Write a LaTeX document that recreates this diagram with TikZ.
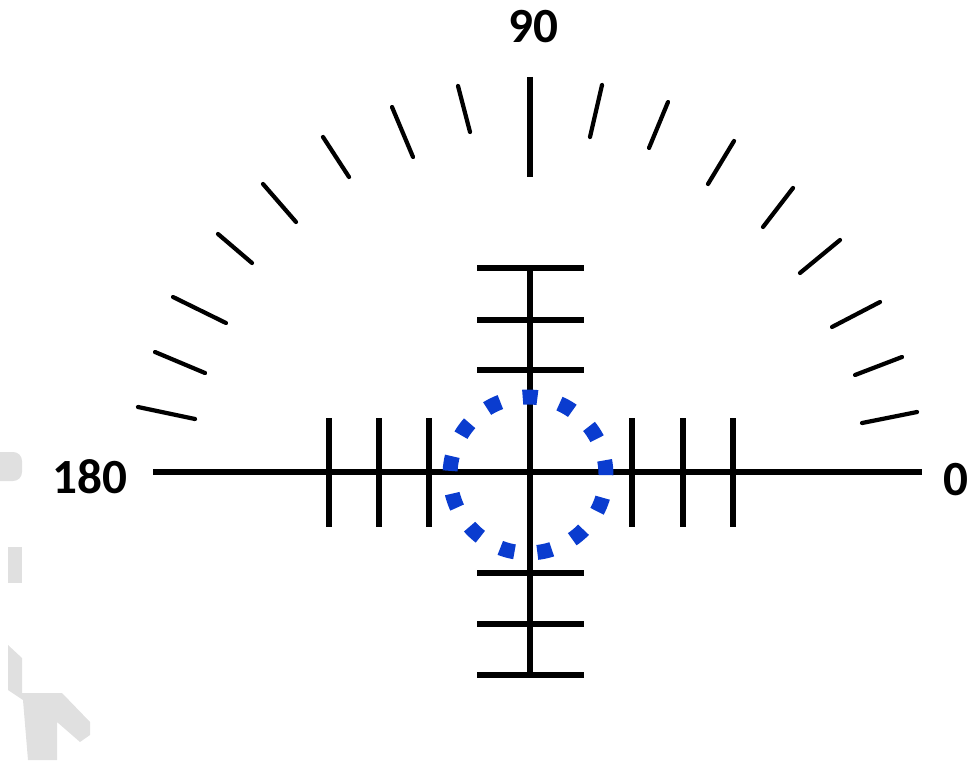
\documentclass[tikz,border=0pt]{standalone}
\usepackage{fontspec}
\setmainfont{Carlito}
\definecolor{DialBlue}{HTML}{0A3CCF}
\definecolor{DialGray}{HTML}{E0E0E0}

\begin{document}
\begin{tikzpicture}[x=.02cm,y=-.02cm,
  axisline/.style={line width=2.9pt},
  arcmark/.style={line width=2.4pt,line cap=round},
  anglelabel/.style={font=\fontsize{28}{32}\selectfont\bfseries,inner sep=0pt}]
  \useasboundingbox (0,0) rectangle (969,760);
  % faint marks at the left edge
  \fill[DialGray,rounded corners=5pt] (-10,452) rectangle (22,481);
  \fill[DialGray] (8,547) rectangle (22,583);
  \fill[DialGray] (8,645)--(22,658)--(22,693)--(62,693)--(90,722)--(90,735)--(80,742)--(57,722)--(57,760)--(28,760)--(23,700)--(8,690)--cycle;
  % cross with its marks
  \draw[axisline] (153,472)--(922,472); \draw[axisline] (530,268)--(530,676);
  \foreach \x in {329,379,429,632,683,733}{\draw[axisline] (\x,418)--(\x,527);}
  \foreach \y in {268,320,370,573,624,675}{\draw[axisline] (477,\y)--(584,\y);}
  % marks of the half dial
  \draw[axisline] (530,77)--(530,177);
  \foreach \ax/\ay/\bx/\by in {602/85/590/137,668/102/649/148,734/141/708/184,793/188/763/227,840/240/800/273,880/302/832/327,902/357/855/375,917/412/862/423,
    458/86/470/132,392/107/413/157,323/137/349/177,263/184/296/222,218/234/252/263,173/297/226/323,155/352/205/373,138/407/195/419}
    {\draw[arcmark] (\ax,\ay)--(\bx,\by);}
  \draw[DialBlue,line width=8.5pt,dash pattern=on 8.4pt off 13.05pt] (528,475) circle[radius=1.56cm];
  \node[anglelabel] (deg90) at (533,27) {90};
  \node[anglelabel] (deg0) at (956,480) {0};
  \node[anglelabel] (deg180) at (90,477) {180};
\end{tikzpicture}
\end{document}
